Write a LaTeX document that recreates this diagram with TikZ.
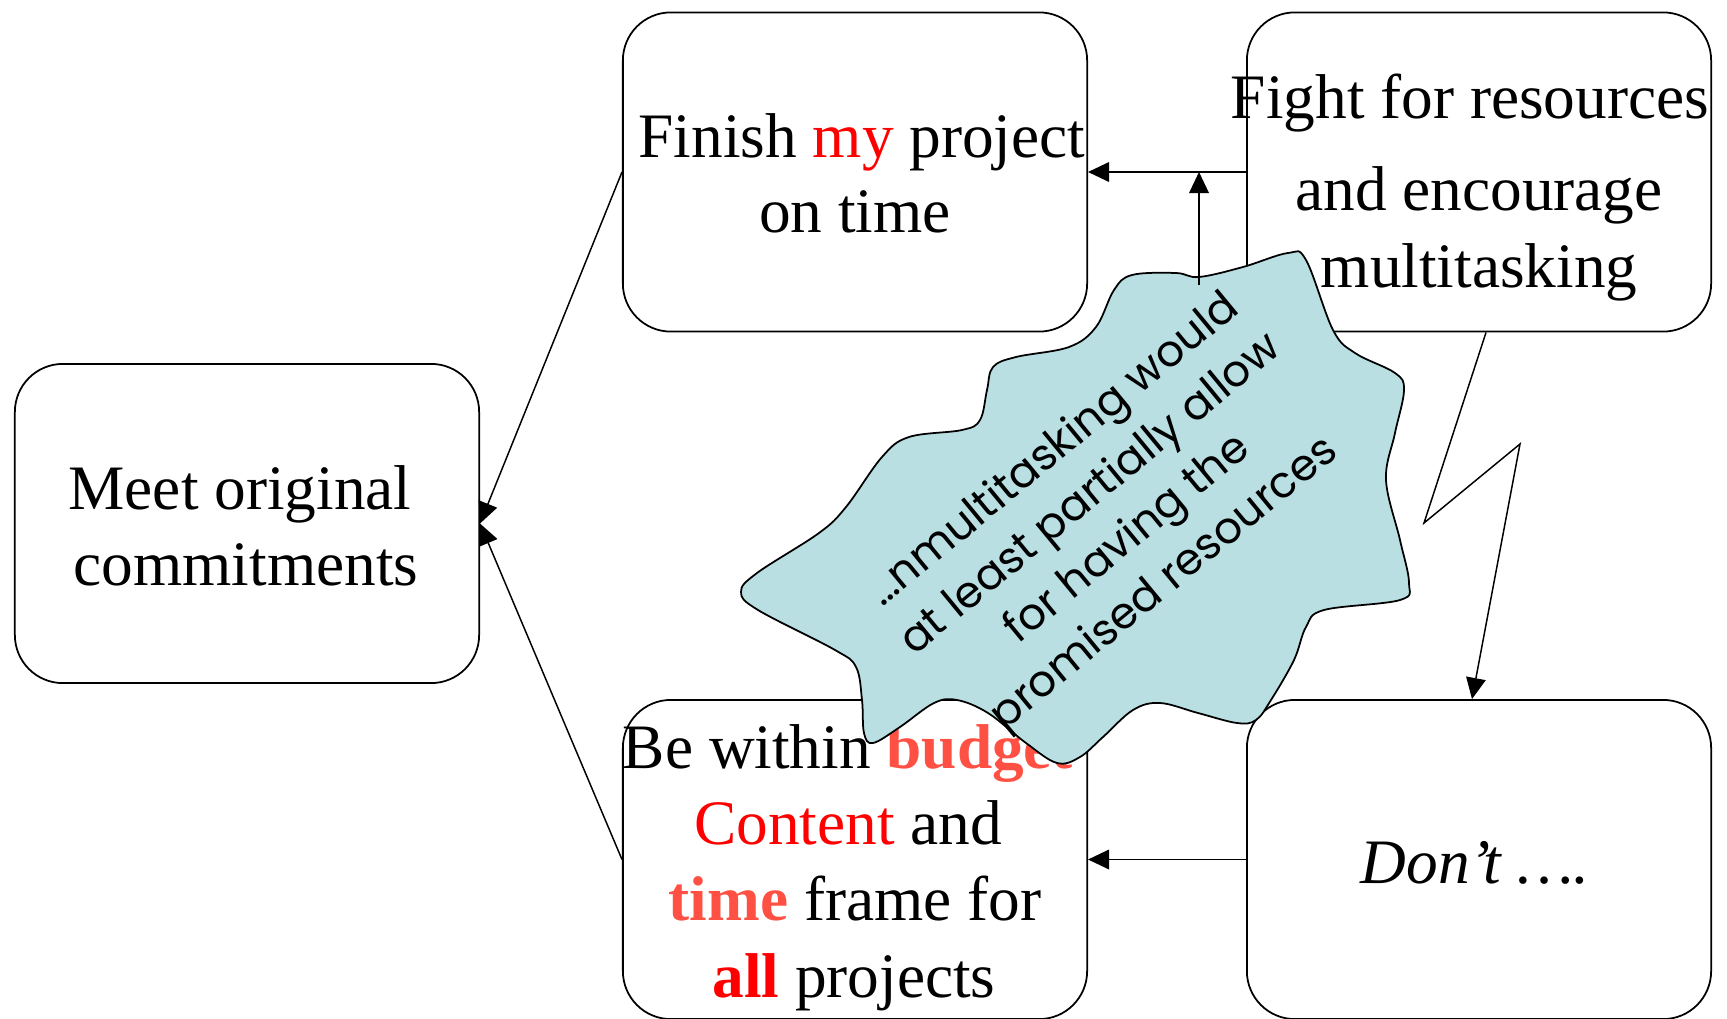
\documentclass[tikz,border=0pt]{standalone}
\usepackage{fontspec}
\setmainfont{Liberation Serif}
\newfontfamily\cloudfont{Poppins}
\usetikzlibrary{arrows.meta}
\definecolor{cloudblue}{RGB}{185,223,227}
\definecolor{softred}{RGB}{255,80,68}
\begin{document}
\begin{tikzpicture}[x=.01cm,y=-.01cm,
                    box/.style={draw,line width=.5pt,rounded corners=.48cm,minimum width=4.64cm,minimum height=3.19cm,inner sep=0pt},
                    txt/.style={anchor=base,inner sep=0pt,font=\fontsize{18}{21}\selectfont},
                    arr/.style={line width=.42pt,-{Triangle[length=6pt,width=5.6pt]}},
                    note/.style={rotate=39.5,align=center,inner sep=0pt,font=\cloudfont\fontsize{12.4}{16.4}\selectfont}]
 \useasboundingbox (0,0) rectangle (1727,1018);
 \node[box] (meet) at (247,523.5) {};
 \node[box] (finish) at (855,172) {};
 \node[box] (fight) at (1479,172) {};
 \node[box] (within) at (855,859.5) {};
 \node[box] (dont) at (1479,859.5) {};
 \node[txt] (meet1) at (240,509) {Meet original};
 \node[txt] (meet2) at (246,585) {commitments};
 \node[txt] (finish1) at (862,157) {Finish \textcolor{red}{my} project};
 \node[txt] (finish2) at (855,232) {on time};
 \node[txt] (fight1) at (1470,118) {Fight for resources};
 \node[txt] (fight2) at (1479,210) {and encourage};
 \node[txt] (fight3) at (1479,287) {multitasking};
 \node[txt] (within1) at (848,768) {Be within \textbf{\textcolor{softred}{budget}}};
 \node[txt] (within2) at (848,844) {\textcolor{red}{Content} and};
 \node[txt] (within3) at (855,920) {\textbf{\textcolor{softred}{time}} frame for};
 \node[txt] (within4) at (854,997) {\textbf{\textcolor{red}{all}} projects};
 \node[txt] (dont1) at (1475,883) {\itshape Don’t ….};
 \draw[fill=cloudblue,line width=.5pt] plot[smooth cycle,tension=.6] coordinates {
   (741,592) (757,573) (819,533) (846,507) (882,457) (909,437) (962,430) (980,420)
   (987,390) (993,367) (1016,357) (1069,347) (1096,327) (1114,290) (1132,275) (1176,273)
   (1199,277) (1243,267) (1288,253) (1306,260) (1333,330) (1355,353) (1395,373) (1404,390)
   (1395,433) (1386,480) (1400,540) (1409,583) (1400,600) (1324,610) (1306,627) (1294,660)
   (1271,700) (1256,720) (1237,723) (1198,713) (1160,703) (1133,710) (1103,737) (1080,757)
   (1057,763) (1026,743) (988,713) (957,700) (934,703) (900,727) (873,743) (864,733)
   (862,700) (856,667) (835,650) (758,610)};
 \node[note] (cloud) at (1110,518) {…nmultitasking would\\at least partially allow\\for having the\\promised resources};
 \coordinate (cloudtop) at (1199,285);
 \coordinate (zig1) at (1424,523);
 \coordinate (zig2) at (1520,444);
 \draw[arr] (finish.west) -- (meet.east);
 \draw[arr] (within.west) -- (meet.east);
 \draw[arr] (fight.west) -- (finish.east);
 \draw[arr] (dont.west) -- (within.east);
 \draw[arr] (cloudtop) -- (cloudtop |- finish.east);
 \draw[arr] ([xshift=.07cm]fight.south) -- (zig1) -- (zig2) -- ([xshift=-.07cm]dont.north);
\end{tikzpicture}
\end{document}
